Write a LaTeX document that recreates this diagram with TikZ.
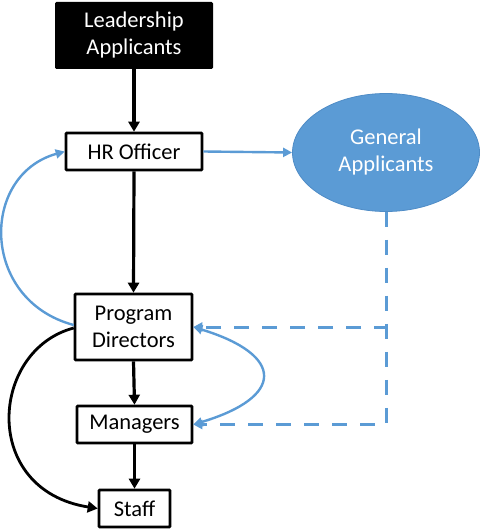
\documentclass[tikz,border=0pt]{standalone}
\usepackage{fontspec}
\setmainfont{Carlito}
\usetikzlibrary{shapes.geometric,arrows.meta}
\definecolor{officeblue}{HTML}{5B9BD5}
\definecolor{ellborder}{HTML}{4F8CC6}
\begin{document}
\begin{tikzpicture}[x=1pt,y=-1pt,
  every node/.style={font=\fontsize{22.5}{27}\selectfont, align=center, inner sep=0pt},
  box/.style={draw=black, line width=2.6pt, fill=white, rounded corners=0.8pt},
  blackbox/.style={draw=black, fill=black, text=white, line width=1pt, rounded corners=1pt},
  genell/.style={ellipse, draw=ellborder, line width=0.8pt, fill=officeblue, text=white},
  blk/.style={draw=black, line width=3.2pt, -{Triangle[length=10pt,width=11pt]}},
  blu/.style={draw=officeblue, line width=2.4pt, -{Triangle[length=9pt,width=9pt]}},
  bludash/.style={draw=officeblue, line width=3pt, dash pattern=on 15pt off 13pt, -{Triangle[length=9pt,width=9pt]}}
]
\useasboundingbox (0,0) rectangle (481,529);

\node[blackbox, minimum width=157pt, minimum height=66pt] (lead) at (134,35.5) {Leadership\\Applicants};
\node[box, minimum width=136pt, minimum height=37pt] (hr) at (134,151.5) {HR Officer};
\node[genell, minimum width=187pt, minimum height=118pt] (gen) at (386,152.5) {General\\Applicants};
\node[box, minimum width=117pt, minimum height=66pt] (pd) at (133.5,327) {Program\\Directors};
\node[box, minimum width=115pt, minimum height=37pt] (mgr) at (134.5,424.5) {Managers};
\node[box, minimum width=71pt, minimum height=37pt] (staff) at (134.5,508.5) {Staff};

\coordinate (pdw1) at ([yshift=2pt]pd.west);
\coordinate (pdw2) at ([yshift=-1pt]pd.west);

% black vertical flow
\draw[blk] (lead.south) -- (hr.north);
\draw[blk] (hr.south) -- (pd.north);
\draw[blk] (pd.south) -- (mgr.north);
\draw[blk] (mgr.south) -- (staff.north);

% black curve PD -> Staff
\draw[blk, line width=2.8pt] (pdw2) .. controls (-10,350) and (-20,490) .. (staff.west);

% blue arrows
\draw[blu] (hr.east) -- (gen.west);
\draw[blu] (pdw1) .. controls (-20,300) and (-20,175) .. (hr.west);
\draw[blu, {Triangle[length=9pt,width=9pt]}-{Triangle[length=9pt,width=9pt]}] (pd.east) .. controls (285,355) and (285,397) .. (mgr.east);

% dashed
\draw[bludash] (gen.south) |- (pd.east);
\draw[bludash] (gen.south) |- (mgr.east);
\end{tikzpicture}
\end{document}
